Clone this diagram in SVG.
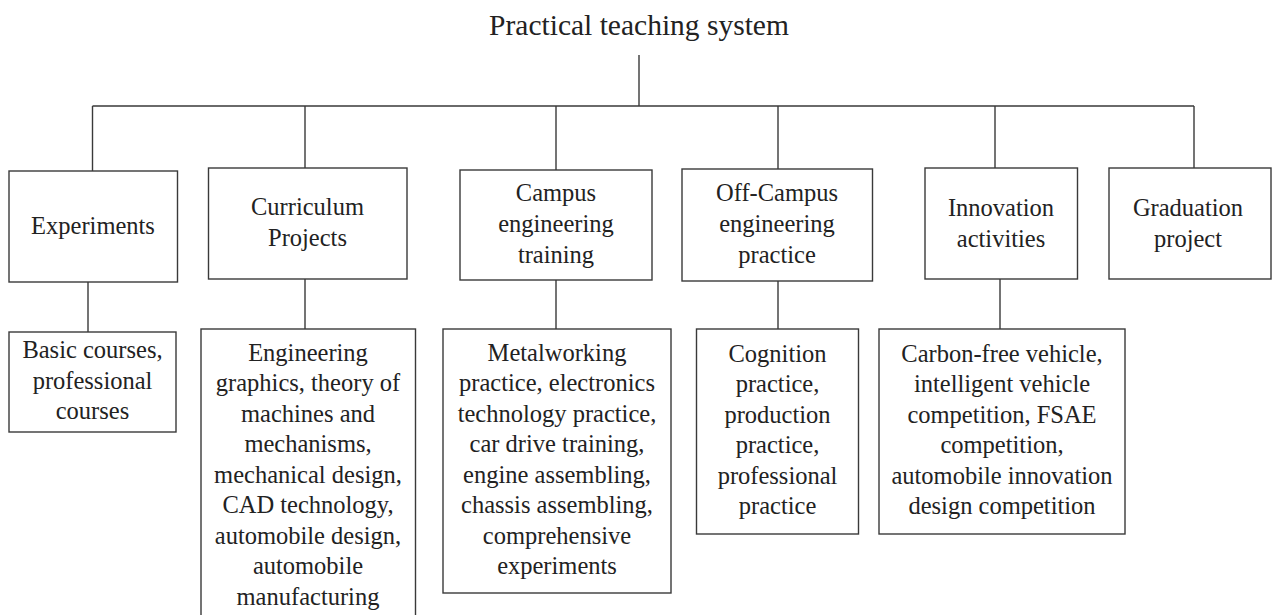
<svg xmlns="http://www.w3.org/2000/svg" width="1273" height="615" viewBox="0 0 1273 615">
<style>
.box{fill:#fff;stroke:#3a3a3a;stroke-width:1.4}
.ln{stroke:#3a3a3a;stroke-width:1.4;fill:none}
text{font-family:"Liberation Serif","Times New Roman",serif;fill:#222;text-anchor:middle}
.t{font-size:24.5px}
.title{font-size:29.5px}
</style>
<rect width="1273" height="615" fill="#fff"/>
<g id="connectors">
<path class="ln" d="M639 55V106M92.5 106H1194M92.5 106V171M305 106V168M556 106V170M778 106V169M995 106V168M1194 106V168"/>
<path class="ln" d="M88 282V332M305 279V329M556 280V329M778 281V329M1000 279V329"/>
</g>
<g id="root"><text class="title" x="639" y="35">Practical teaching system</text></g>
<g id="experiments"><rect class="box" x="9" y="171" width="168.5" height="111"/><text class="t" x="93" y="234">Experiments</text></g>
<g id="curriculum"><rect class="box" x="208.5" y="168" width="198.5" height="111"/><text class="t" x="307.5" y="215">Curriculum</text><text class="t" x="307.5" y="246">Projects</text></g>
<g id="campus"><rect class="box" x="460" y="170" width="192" height="110"/><text class="t" x="556" y="201">Campus</text><text class="t" x="556" y="232">engineering</text><text class="t" x="556" y="263">training</text></g>
<g id="offcampus"><rect class="box" x="682" y="169" width="190.5" height="112"/><text class="t" x="777" y="201">Off-Campus</text><text class="t" x="777" y="232">engineering</text><text class="t" x="777" y="263">practice</text></g>
<g id="innovation"><rect class="box" x="925" y="168" width="152.5" height="111"/><text class="t" x="1001" y="216">Innovation</text><text class="t" x="1001" y="247">activities</text></g>
<g id="graduation"><rect class="box" x="1109" y="168" width="162" height="111"/><text class="t" x="1188" y="216">Graduation</text><text class="t" x="1188" y="247">project</text></g>
<g id="basic"><rect class="box" x="9" y="332" width="167" height="100"/><text class="t" x="92.5" y="358">Basic courses,</text><text class="t" x="92.5" y="388.5">professional</text><text class="t" x="92.5" y="419">courses</text></g>
<g id="curriculum-detail"><rect class="box" x="201" y="329" width="214.5" height="300"/>
<text class="t" x="308" y="360.5">Engineering</text><text class="t" x="308" y="391">graphics, theory of</text><text class="t" x="308" y="421.5">machines and</text><text class="t" x="308" y="452">mechanisms,</text><text class="t" x="308" y="482.5">mechanical design,</text><text class="t" x="308" y="513">CAD technology,</text><text class="t" x="308" y="543.5">automobile design,</text><text class="t" x="308" y="574">automobile</text><text class="t" x="308" y="604.5">manufacturing</text></g>
<g id="campus-detail"><rect class="box" x="443" y="329" width="228" height="264"/>
<text class="t" x="557" y="360.5">Metalworking</text><text class="t" x="557" y="391">practice, electronics</text><text class="t" x="557" y="421.5">technology practice,</text><text class="t" x="557" y="452">car drive training,</text><text class="t" x="557" y="482.5">engine assembling,</text><text class="t" x="557" y="513">chassis assembling,</text><text class="t" x="557" y="543.5">comprehensive</text><text class="t" x="557" y="574">experiments</text></g>
<g id="offcampus-detail"><rect class="box" x="696.5" y="329" width="162" height="205"/>
<text class="t" x="777.5" y="361.5">Cognition</text><text class="t" x="777.5" y="392">practice,</text><text class="t" x="777.5" y="422.5">production</text><text class="t" x="777.5" y="453">practice,</text><text class="t" x="777.5" y="483.5">professional</text><text class="t" x="777.5" y="514">practice</text></g>
<g id="innovation-detail"><rect class="box" x="879" y="329" width="246" height="205"/>
<text class="t" x="1002" y="361.5">Carbon-free vehicle,</text><text class="t" x="1002" y="392">intelligent vehicle</text><text class="t" x="1002" y="422.5">competition, FSAE</text><text class="t" x="1002" y="453">competition,</text><text class="t" x="1002" y="483.5">automobile innovation</text><text class="t" x="1002" y="514">design competition</text></g>
</svg>
